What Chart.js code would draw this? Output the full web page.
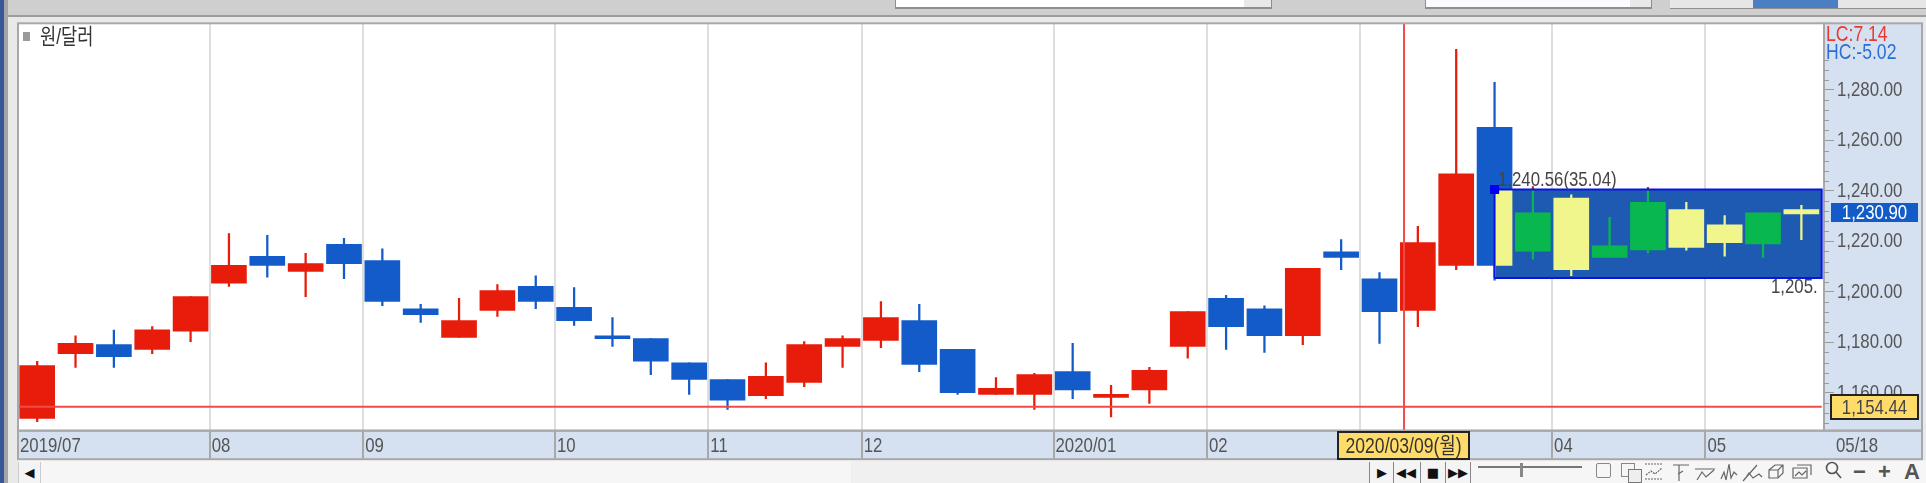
<!DOCTYPE html>
<html>
<head>
<meta charset="utf-8">
<script src="https://cdn.jsdelivr.net/npm/chart.js@4"></script>
<style>
  html, body { margin: 0; padding: 0; background: #e9e9e9; overflow: hidden; }
  #page { position: relative; width: 1926px; height: 483px; overflow: hidden; }
  #page div, #page span, #page svg { position: absolute; }
  canvas { position: absolute; left: 0; top: 0; }
  .btn { top: 462px; height: 21px; width: 24px; background: #f4f4f4; border-left: 1px solid #888; text-align: center; font: 13px "DejaVu Sans"; line-height: 21px; color: #111; }
  .ico { top: 461px; font: bold 22px "Liberation Sans"; color: #555; line-height: 22px; }
</style>
</head>
<body>
<div id="page">
  <div style="left:0;top:0;width:1926px;height:15px;background:#cfcfcf"></div>
  <div style="left:0;top:15px;width:1926px;height:2px;background:#9d9d9d"></div>
  <div style="left:895px;top:0;width:348px;height:7px;background:#fff;border:solid #8e8e8e;border-width:0 1px 2px 1px"></div>
  <div style="left:1244px;top:0;width:27px;height:7px;background:#e8e8e8;border:solid #8e8e8e;border-width:0 1px 2px 0"></div>
  <div style="left:1425px;top:0;width:204px;height:7px;background:#fbfcff;border:solid #8e8e8e;border-width:0 1px 2px 1px"></div>
  <div style="left:1630px;top:0;width:21px;height:7px;background:#e8e8e8;border:solid #8e8e8e;border-width:0 1px 2px 0"></div>
  <div style="left:1670px;top:0;width:83px;height:8px;background:#e6e6e6;border-bottom:1px solid #8e8e8e"></div>
  <div style="left:1753px;top:0;width:85px;height:8px;background:#4a7fc4;border-bottom:1px solid #8e8e8e"></div>
  <div style="left:1838px;top:0;width:88px;height:8px;background:#e6e6e6;border-bottom:1px solid #8e8e8e"></div>
  <div style="left:0;top:0;width:4px;height:483px;background:#38589a"></div>
  <div style="left:4px;top:0;width:4px;height:483px;background:#a5a5a5"></div>
  <div style="left:18px;top:23px;width:1806px;height:408px;background:#fff"></div>
  <div style="left:18px;top:431px;width:1904px;height:28px;background:#d5e1f0"></div>
  <div style="left:1824px;top:23px;width:98px;height:408px;background:#d5e1f0"></div>
  <div style="left:18px;top:460px;width:1908px;height:23px;background:#f6f6f6"></div>
  <div style="left:851px;top:461px;width:518px;height:22px;background:#f0f0f0"></div>
  <div class="btn" style="left:18px;width:21px;border:1px solid #ccc;border-width:0 1px 0 1px">◀</div>
  <div class="btn" style="left:1369px;">▶</div>
  <div class="btn" style="left:1393px;">◀◀</div>
  <div class="btn" style="left:1420px;">■</div>
  <div class="btn" style="left:1445px;border-right:1px solid #888">▶▶</div>
  <div style="left:1478px;top:466px;width:104px;height:2px;background:#777"></div>
  <div style="left:1520px;top:463px;width:3px;height:14px;background:#888"></div>
  <div style="left:1596px;top:463px;width:13px;height:13px;border:1px solid #888;border-radius:2px"></div>
  <div style="left:1621px;top:463px;width:12px;height:12px;border:1px solid #888"></div>
  <div style="left:1628px;top:469px;width:12px;height:12px;border:1px solid #777;background:#eee"></div>
  <svg style="left:1645px;top:463px" width="180" height="20" viewBox="0 0 180 20" fill="none" stroke="#666" stroke-width="1.2">
    <path d="M0 1h18M0 16h18M1 12l5-4 4 3 7-6" stroke-dasharray="2 1"/>
    <path d="M28 2h16M34 2v16M38 8l-5 3"/>
    <path d="M50 6h20M52 17l5-8 4 5 8-7"/>
    <path d="M76 16l3-7 2 8 3-16 2 14 3-6 3 3"/>
    <path d="M98 18l14-16M100 16l4-6 4 5 6-4 3 3"/>
    <path d="M124 7l6-5h8v8l-5 5h-9zM124 7h9v8M133 7l5-5"/>
    <path d="M148 5h14v10h-14zM152 2h14v10M150 13l4-4 3 3 4-4"/>
  </svg>
  <svg style="left:1825px;top:461px" width="17" height="20" fill="none" stroke="#555" stroke-width="1.6">
    <circle cx="7" cy="7" r="5.5"/><path d="M11 11l5 6"/>
  </svg>
  <div class="ico" style="left:1853px">−</div>
  <div class="ico" style="left:1878px">+</div>
  <div class="ico" style="left:1904px">A</div>
  <canvas id="chart" width="1926" height="483"></canvas>
</div>

<script>
// weekly won/dollar candles
const bodyTop = [1170.8,1179.6,1179.1,1185.0,1198.1,1210.5,1214.1,1211.2,1218.8,1212.4,1193.3,1188.6,1200.5,1202.2,1193.9,1182.6,1181.5,1171.9,1165.3,1166.5,1179.1,1181.5,1189.8,1188.6,1177.2,1161.8,1167.2,1168.4,1159.4,1168.9,1192.2,1197.4,1193.3,1209.3,1215.9,1205.2,1219.5,1246.8,1265.2,1231.3,1237.2,1218.2,1235.5,1232.6,1226.6,1231.3,1232.6];
const bodyBottom = [1149.9,1175.5,1174.3,1177.2,1184.4,1203.4,1210.5,1208.1,1211.2,1196.2,1191.0,1182.0,1192.7,1196.2,1188.6,1181.5,1172.5,1165.3,1157.1,1158.9,1164.1,1178.4,1180.8,1171.3,1160.1,1159.4,1159.4,1161.2,1158.2,1161.2,1178.4,1186.2,1182.6,1182.6,1213.6,1192.2,1192.7,1210.5,1210.5,1216.1,1208.8,1213.6,1216.6,1217.6,1219.5,1219.0,1230.9];
const wickHigh = [1172.5,1182.6,1184.9,1186.2,1198.1,1223.1,1222.4,1215.3,1221.2,1217.1,1195.1,1197.4,1202.9,1206.4,1201.7,1189.8,1181.5,1171.9,1165.3,1171.9,1180.3,1182.6,1196.2,1195.1,1177.2,1166.0,1167.7,1179.6,1163.0,1170.1,1192.2,1198.6,1194.5,1209.3,1220.7,1207.6,1226.0,1296.1,1283.0,1241.7,1238.4,1229.5,1241.4,1235.5,1230.2,1231.3,1234.3];
const wickLow = [1148.6,1170.1,1170.1,1175.5,1180.3,1202.2,1205.8,1198.1,1205.2,1194.5,1187.9,1182.0,1190.3,1193.3,1186.7,1178.4,1167.2,1159.4,1153.4,1157.7,1162.4,1170.1,1177.9,1168.4,1159.4,1159.4,1153.4,1157.7,1150.5,1155.8,1173.7,1177.2,1176.0,1179.1,1208.8,1179.6,1186.2,1208.8,1204.6,1213.0,1206.4,1213.6,1215.4,1216.5,1214.1,1213.6,1220.7];
// 1 = close above open (red / green), 0 = below (blue / yellow)
const candleUp = [1,1,0,1,1,1,0,1,0,0,0,1,1,0,0,0,0,0,0,1,1,1,1,0,0,1,1,0,1,1,1,0,0,1,0,0,1,1,0,1,0,1,1,0,0,1,0];

const monthTicks = [-0.5,4.5,8.5,13.5,17.5,21.5,26.5,30.5,34.5,39.5,43.5];
const monthLabels = ['2019/07','08','09','10','11','12','2020/01','02','','04','05'];
const priceTicks = [1160,1180,1200,1220,1240,1260,1280];
const minorPriceTicks = [1148,1152,1156,1164,1168,1172,1176,1184,1188,1192,1196,1204,1208,1212,1216,1224,1228,1232,1236,1244,1248,1252,1256,1264,1268,1272,1276,1284,1288,1292];

const lastClose = 1154.44, currentPrice = 1230.90, crossX = 35.64;
const boxStartX = 38, boxEndX = 46.53, boxTop = 1240.56, boxBottom = 1205.52;

const FONT = '"Liberation Sans", "Noto Sans CJK KR", sans-serif';
const RED = '#e81c0a', BLUE = '#125bc9', YELLOW = '#f0f58c', GREEN = '#08b84e';

const idx = bodyTop.map((_, i) => i);
const bodies = idx.map(i => ({x: i, y: [bodyBottom[i], bodyTop[i]]}));
const wicks = idx.map(i => ({x: i, y: [wickLow[i], wickHigh[i]]}));
const normalColors = candleUp.map(u => u ? RED : BLUE);
const patternColors = candleUp.map(u => u ? GREEN : YELLOW);

function barSet(data, colors, thickness, order, extra){
    return Object.assign({
        type: 'bar', data, backgroundColor: colors, barThickness: thickness,
        grouped: false, order
    }, extra);
}

function lineSet(points, color, width, order, extra){
    return Object.assign({
        type: 'line', data: points, borderColor: color, borderWidth: width,
        pointRadius: 0, tension: 0, fill: false, order
    }, extra);
}

function tag(ctx, x, y, w, h, bg, border, color, text){
    ctx.fillStyle = bg;
    ctx.fillRect(x, y, w, h);
    if(border){
        ctx.strokeStyle = border;
        ctx.lineWidth = 2;
        ctx.strokeRect(x, y, w, h);
    }
    ctx.fillStyle = color;
    ctx.textAlign = 'center';
    ctx.textBaseline = 'middle';
    ctx.fillText(text, x + w / 2, y + h / 2 + 1);
}

// the source terminal uses a tall narrow font, none is installed, so squeeze the text
const squeezeText = {
    id: 'squeezeText',
    beforeInit(chart){
        const ctx = chart.ctx;
        const fill = ctx.fillText.bind(ctx);
        ctx.fillText = (t, x, y) => fill(t, x, y, ctx.measureText(t).width * 0.8);
    }
};

// recolours the candles inside the pattern box, only there
const boxClip = {
    id: 'boxClip',
    beforeDatasetDraw(chart, args){
        if(!chart.data.datasets[args.index].clipToBox) return;
        const {x, y} = chart.scales;
        const left = x.getPixelForValue(boxStartX), top = y.getPixelForValue(boxTop);
        const ctx = chart.ctx;
        ctx.save();
        ctx.beginPath();
        ctx.rect(left, top, x.getPixelForValue(boxEndX) - left, y.getPixelForValue(boxBottom) - top);
        ctx.clip();
    },
    afterDatasetDraw(chart, args){
        if(chart.data.datasets[args.index].clipToBox) chart.ctx.restore();
    }
};

const overlay = {
    id: 'overlay',
    afterDraw(chart){
        const {ctx, chartArea: a, scales: {x, y}} = chart;
        ctx.save();

        // frame
        ctx.strokeStyle = '#a8a8a8';
        ctx.lineWidth = 2;
        ctx.strokeRect(a.left, a.top, a.right - a.left, a.bottom - a.top);
        ctx.strokeRect(a.left, a.bottom, 1904, 28.5);
        ctx.strokeRect(a.right, a.top, 98, a.bottom - a.top);

        // minor price ticks
        ctx.strokeStyle = '#9a9a9a';
        ctx.lineWidth = 1;
        minorPriceTicks.forEach(v => {
            const py = Math.round(y.getPixelForValue(v)) + 0.5;
            ctx.beginPath();
            ctx.moveTo(a.right, py);
            ctx.lineTo(a.right + 5, py);
            ctx.stroke();
        });

        ctx.font = '22px ' + FONT;
        ctx.textBaseline = 'alphabetic';
        ctx.textAlign = 'left';

        ctx.fillStyle = '#e83a30';
        ctx.fillText('LC:7.14', 1826, 41);
        ctx.fillStyle = '#2a6fd8';
        ctx.fillText('HC:-5.02', 1826, 59);

        ctx.font = '21px ' + FONT;
        ctx.fillStyle = '#444';
        ctx.fillText('1,240.56(35.04)', 1498, 186);
        ctx.fillText('1,205.', 1771, 293);
        ctx.fillStyle = '#555';
        ctx.fillText('05/18', 1836, 452);

        ctx.fillStyle = '#9a9a9a';
        ctx.fillRect(23, 32, 7, 9);
        ctx.fillStyle = '#333';
        ctx.font = '22px ' + FONT;
        ctx.fillText('원/달러', 40, 44);

        ctx.font = '21px ' + FONT;
        tag(ctx, 1831, 203, 87, 19, BLUE, null, '#fff', '1,230.90');
        tag(ctx, 1831, 395, 87, 24, '#ffdc6a', '#222', '#444', '1,154.44');
        ctx.font = '22px ' + FONT;
        tag(ctx, 1338, 432, 131, 27, '#ffdc6a', '#222', '#333', '2020/03/09(월)');
        ctx.restore();
    }
};

new Chart('chart', {
    data: {
        datasets: [
            lineSet([{x: -0.5, y: lastClose}, {x: boxEndX, y: lastClose}], '#f24a4a', 2, 0),
            lineSet([{x: crossX, y: 1145}, {x: crossX, y: 1306.4}], '#f24a4a', 2, 0),
            lineSet([{x: boxStartX, y: boxTop}], '#0000f0', 0, 1, {
                pointRadius: 6.5, pointStyle: 'rect', pointBackgroundColor: '#0000f0', pointBorderWidth: 0
            }),
            lineSet([
                {x: boxStartX, y: boxBottom}, {x: boxStartX, y: boxTop}, {x: boxEndX, y: boxTop},
                {x: boxEndX, y: boxBottom}, {x: boxStartX, y: boxBottom}
            ], '#0a14e0', 2, 2),
            barSet(bodies, patternColors, 35, 3, {clipToBox: true}),
            barSet(wicks, patternColors, 1.6, 4, {clipToBox: true}),
            lineSet([{x: boxStartX, y: boxTop}, {x: boxEndX, y: boxTop}], 'rgba(0,0,0,0)', 0, 5, {
                fill: {target: {value: boxBottom}}, backgroundColor: '#1e5ab2'
            }),
            barSet(bodies, normalColors, 35, 6),
            barSet(wicks, normalColors, 1.6, 7)
        ]
    },
    options: {
        responsive: false,
        animation: false,
        events: [],
        layout: {padding: {left: 18, top: 23.3, right: 6, bottom: 23.3}},
        plugins: {legend: {display: false}, tooltip: {enabled: false}},
        scales: {
            x: {
                type: 'linear',
                offset: false,
                min: -0.5,
                max: 46.59,
                border: {display: false},
                grid: {offset: false, color: '#dedede', lineWidth: 2, tickLength: 28, tickColor: '#a8a8a8', tickWidth: 2},
                afterBuildTicks: s => { s.ticks = monthTicks.map(value => ({value})); },
                afterFit: s => { s.height = 29; },
                ticks: {
                    autoSkip: false,
                    maxRotation: 0,
                    align: 'start',
                    padding: -25,
                    labelOffset: 2,
                    color: '#555',
                    font: {family: FONT, size: 21},
                    callback: (v, i) => monthLabels[i]
                }
            },
            y: {
                position: 'right',
                min: 1145,
                max: 1306.4,
                border: {display: false},
                grid: {drawOnChartArea: false, tickLength: 10, tickColor: '#9a9a9a'},
                afterBuildTicks: s => { s.ticks = priceTicks.map(value => ({value})); },
                afterFit: s => { s.width = 96; },
                ticks: {
                    padding: 3,
                    color: '#555',
                    font: {family: FONT, size: 21},
                    callback: v => v.toLocaleString('en-US', {minimumFractionDigits: 2, maximumFractionDigits: 2})
                }
            }
        }
    },
    plugins: [squeezeText, boxClip, overlay]
});
</script>
</body>
</html>
